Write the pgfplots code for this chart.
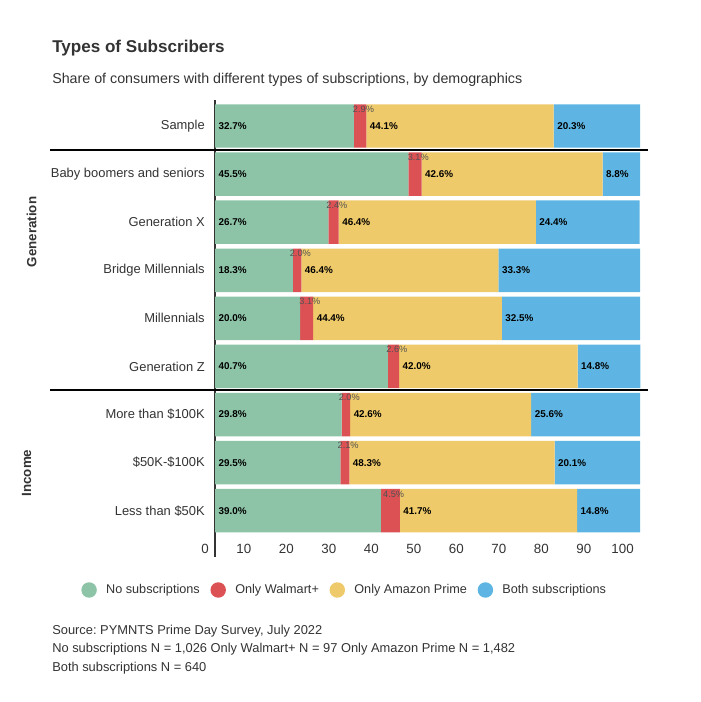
\documentclass[border=0pt]{standalone}
\usepackage{pgfplots}
\usepackage{pgfplotstable}
\pgfplotsset{compat=1.18}
\usepackage{fontspec}
\setmainfont{Liberation Sans}
\frenchspacing

\definecolor{cNone}{HTML}{8DC4A7}
\definecolor{cWal}{HTML}{DB5154}
\definecolor{cAmz}{HTML}{EFCA6A}
\definecolor{cBoth}{HTML}{5EB5E3}
\definecolor{txt}{HTML}{333333}

% shares in percent: none, walmart+ only, amazon prime only, both
\pgfplotstableread{
row a b c d
0 32.7 2.9 44.1 20.3
1 45.5 3.1 42.6 8.8
2 26.7 2.4 46.4 24.4
3 18.3 2.0 46.4 33.3
4 20.0 3.1 44.4 32.5
5 40.7 2.6 42.0 14.8
6 29.8 2.0 42.6 25.6
7 29.5 2.1 48.3 20.1
8 39.0 4.5 41.7 14.8
}\subs
\pgfplotstablecreatecol[expr={\thisrow{a}+0.5*\thisrow{b}}]{mb}\subs
\pgfplotstablecreatecol[expr={\thisrow{a}+\thisrow{b}}]{sc}\subs
\pgfplotstablecreatecol[expr={\thisrow{a}+\thisrow{b}+\thisrow{c}}]{sd}\subs

\pgfplotsset{
  base/.style={
    at={(161.25pt,-405pt)}, anchor=south west,
    scale only axis, width=318.75pt, height=330pt,
    xmin=0, xmax=100, ymin=-0.5407, ymax=8.609, y dir=reverse,
  },
  lbl/.style={draw=none, mark=none,
    nodes near coords={\pgfplotspointmeta\%}, point meta=explicit symbolic,
    every node near coord/.append style={anchor=west, inner sep=0pt, xshift=2.5pt,
      font=\fontsize{7.4}{8}\selectfont\bfseries, text=black}},
}

\begin{document}
\begin{tikzpicture}
\useasboundingbox (0,0) rectangle (525pt,-526.5pt);

\begin{axis}[base,
  xbar stacked, bar width=32.6pt, clip=false,
  axis x line*=bottom, axis y line*=left, axis line style={draw=none},
  major tick length=0pt,
  xtick={0,10,...,100}, ytick={0,...,8},
  yticklabels={Sample, Baby boomers and seniors, Generation X, Bridge Millennials,
    Millennials, Generation Z, More than \$100K, \$50K-\$100K, Less than \$50K},
  /pgf/number format/assume math mode=true,
  xticklabel style={anchor=north east, inner sep=0pt, xshift=-4.5pt, yshift=-3pt,
    font=\fontsize{10}{12}\selectfont, text=txt},
  yticklabel style={anchor=east, inner sep=0pt, xshift=-7.5pt,
    font=\fontsize{9.7}{12}\selectfont, text=txt},
  legend columns=4,
  legend image code/.code={\fill[#1] (0pt,0pt) circle (5.8pt);},
  legend style={draw=none, fill=none, at={(0.3059,-0.1136)}, anchor=center,
    font=\fontsize{9.5}{11}\selectfont, text=txt,
    /tikz/every odd column/.append style={column sep=5pt},
    /tikz/every even column/.append style={column sep=6pt}},
]
\addplot[fill=cNone, draw=none] table[x=a, y=row] {\subs};
\addlegendentry{No subscriptions}
\addplot[fill=cWal, draw=none] table[x=b, y=row] {\subs};
\addlegendentry{Only Walmart+}
\addplot[fill=cAmz, draw=none] table[x=c, y=row] {\subs};
\addlegendentry{Only Amazon Prime}
\addplot[fill=cBoth, draw=none] table[x=d, y=row] {\subs};
\addlegendentry{Both subscriptions}

\draw[line width=1.5pt] (axis cs:-38.8,0.5) -- (axis cs:101.9,0.5);
\draw[line width=1.5pt] (axis cs:-38.8,5.48) -- (axis cs:101.9,5.48);
\draw[line width=1.5pt, color=txt] (axis cs:0,-0.5407) -- (axis cs:0,8.962);
\end{axis}

\begin{axis}[base, hide axis]
\addplot[lbl] table[x expr=0, y=row, meta=a] {\subs};
\addplot[lbl] table[x=sc, y=row, meta=c] {\subs};
\addplot[lbl] table[x=sd, y=row, meta=d] {\subs};
\addplot[lbl, every node near coord/.append style={anchor=center, xshift=0pt,
    font=\fontsize{6.9}{7}\selectfont, text=black!68}]
  table[x=mb, y expr=\thisrow{row}-0.35, meta=b] {\subs};
\end{axis}

\begin{scope}[x=0.75pt, y=-0.75pt, text=txt]
\node[anchor=west, inner sep=0pt, font=\fontsize{12.8}{14}\selectfont\bfseries] at (52,48) {Types of Subscribers};
\node[anchor=west, inner sep=0pt, font=\fontsize{10.7}{12}\selectfont] at (52,80) {Share of consumers with different types of subscriptions, by demographics};
\node[rotate=90, inner sep=0pt, font=\fontsize{10}{12}\selectfont\bfseries] at (31.5,232) {Generation};
\node[rotate=90, inner sep=0pt, font=\fontsize{10}{12}\selectfont\bfseries] at (26.7,473) {Income};
\node[anchor=west, inner sep=0pt, font=\fontsize{9.65}{11}\selectfont] at (52,631) {Source: PYMNTS Prime Day Survey, July 2022};
\node[anchor=west, inner sep=0pt, font=\fontsize{9.65}{11}\selectfont] at (52,649.5) {No subscriptions N = 1,026 Only Walmart+ N = 97 Only Amazon Prime N = 1,482};
\node[anchor=west, inner sep=0pt, font=\fontsize{9.65}{11}\selectfont] at (52,668.3) {Both subscriptions N = 640};
\end{scope}
\end{tikzpicture}
\end{document}
